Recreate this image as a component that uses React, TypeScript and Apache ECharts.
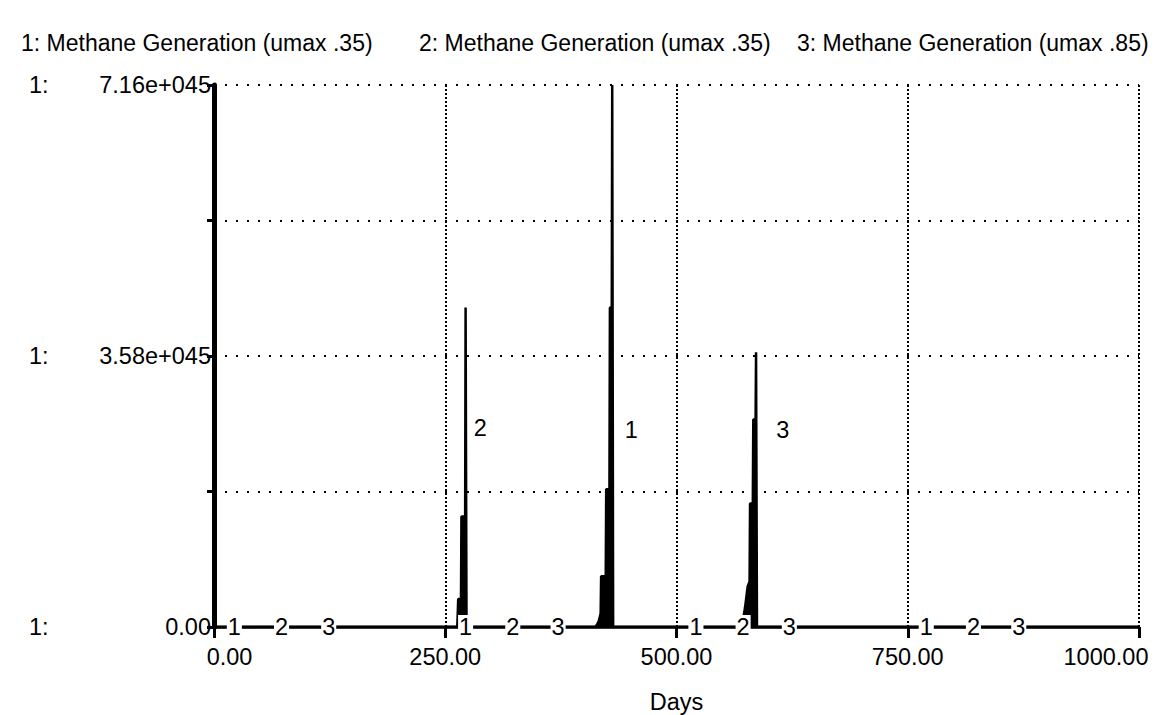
import React, { useEffect, useRef } from "react";
import * as echarts from "echarts";

// ---- data (values in units of 1e45) ----
const legendNames = [
  "1: Methane Generation (umax .35)",
  "2: Methane Generation (umax .35)",
  "3: Methane Generation (umax .85)",
];
const series1 = [
  [0, 0], [412, 0], [414, 0.03], [416, 0.08], [418, 0.18], [418.5, 0.67], [423.5, 0.67],
  [424, 1.82], [427.5, 1.82], [428, 4.22], [430, 4.22], [430.5, 7.16], [431.5, 0], [1000, 0],
];
const series2 = [
  [0, 0], [263, 0], [264, 0.37], [267, 0.37], [267.5, 1.46], [271.5, 1.46], [272, 4.22],
  [273, 0], [1000, 0],
];
const series3 = [
  [0, 0], [571, 0], [572, 0.1], [574, 0.25], [577, 0.54], [579, 0.6], [579.5, 1.63],
  [582.5, 1.63], [583, 2.74], [585.5, 2.74], [586, 3.63], [587, 0], [1000, 0],
];
const baseLabelDays1 = [22, 272, 521, 770];
const baseLabelDays2 = [73, 323, 572, 821];
const baseLabelDays3 = [124, 372, 622, 870];
const spikeLabel1 = [451, 2.6];
const spikeLabel2 = [288, 2.63];
const spikeLabel3 = [615, 2.6];
const xMin = 0;
const xMax = 1000;
const xInterval = 250;
const yMin = 0;
const yMax = 7.16;
const yInterval = 1.79;
const yTickLabels = ["0.00", "", "3.58e+045", "", "7.16e+045"];
const xName = "Days";

const FONT = '"Liberation Sans", Arial, Helvetica, sans-serif';
const FS = 23.5;
const LEGEND_FS = 23;
const legendLefts = [8, 406, 784];

export default function App() {
  const ref = useRef<HTMLDivElement>(null);
  useEffect(() => {
    if (!ref.current) return;
    const chart = echarts.init(ref.current, undefined, { renderer: "svg" });
    const seriesData = [series1, series2, series3];
    const baseDays = [baseLabelDays1, baseLabelDays2, baseLabelDays3];
    const spikes = [spikeLabel1, spikeLabel2, spikeLabel3];

    const lineSeries = seriesData.map((d, i) => ({
      name: legendNames[i],
      type: "line",
      data: d,
      showSymbol: false,
      symbol: "none",
      lineStyle: { color: "#000", width: 2.5 },
      itemStyle: { color: "#000" },
      areaStyle: { color: "#000", opacity: 1 },
      z: 3,
    }));
    const labelSeries = baseDays.map((days, i) => ({
      name: "label" + (i + 1),
      type: "scatter",
      data: [...days.map((d) => [d, 0]), spikes[i]],
      symbolSize: 1,
      itemStyle: { color: "rgba(255,255,255,0)" },
      label: {
        show: true,
        formatter: String(i + 1),
        position: "inside",
        fontSize: FS,
        fontFamily: FONT,
        color: "#000",
        opacity: 1,
        textBorderWidth: 0,
        backgroundColor: "#fff",
        padding: [0, 1],
      },
      z: 5,
    }));

    const legends = legendNames.map((n, i) => ({
      data: [n],
      left: legendLefts[i],
      top: 23,
      padding: 0,
      icon: "none",
      itemWidth: 0,
      selectedMode: false,
      textStyle: { fontSize: LEGEND_FS, fontFamily: FONT, color: "#000" },
    }));

    chart.setOption({
      animation: false,
      backgroundColor: "#fff",
      textStyle: { fontFamily: FONT },
      legend: legends,
      grid: { left: 206, right: 25, top: 77, bottom: 96, containLabel: false },
      xAxis: {
        type: "value",
        min: xMin,
        max: xMax,
        interval: xInterval,
        offset: 5,
        name: xName,
        nameLocation: "middle",
        nameGap: 58,
        nameTextStyle: { fontSize: FS, fontFamily: FONT, color: "#000" },
        axisLine: { show: true, lineStyle: { color: "#000", width: 2.5 } },
        axisTick: { show: true, length: 11, lineStyle: { color: "#000", width: 3 } },
        axisLabel: {
          fontSize: FS,
          fontFamily: FONT,
          color: "#000",
          margin: 13,
          alignMinLabel: "center",
          alignMaxLabel: "center",
          formatter: (v: number) => {
            const t = v.toFixed(2);
            if (v === xMin) return `{m|${t}}`;
            if (v === xMax) return `{M|${t}}`;
            return t;
          },
          rich: {
            m: { padding: [0, 0, 0, 31], fontSize: FS, fontFamily: FONT, color: "#000" },
            M: { padding: [0, 66, 0, 0], fontSize: FS, fontFamily: FONT, color: "#000" },
          },
        },
        splitLine: { show: true, lineStyle: { color: "#000", width: 2, type: [2, 2] } },
      },
      yAxis: {
        type: "value",
        min: yMin,
        max: yMax,
        interval: yInterval,
        axisLine: { show: true, lineStyle: { color: "#000", width: 5 } },
        axisTick: { show: true, length: 7, lineStyle: { color: "#000", width: 3 } },
        axisLabel: {
          margin: 3,
          fontSize: FS,
          fontFamily: FONT,
          color: "#000",
          formatter: (_v: number, idx: number) => {
            const t = yTickLabels[idx];
            return t ? `{s|1:}{v|${t}}` : "";
          },
          rich: {
            s: { width: 70, align: "left", fontSize: FS, fontFamily: FONT, color: "#000" },
            v: { width: 112, align: "right", fontSize: FS, fontFamily: FONT, color: "#000" },
          },
        },
        splitLine: { show: true, lineStyle: { color: "#000", width: 2, type: [2, 9] } },
      },
      tooltip: { show: false },
      series: [...lineSeries, ...labelSeries],
    });
    return () => chart.dispose();
  }, []);
  return (
    <div
      ref={ref}
      style={{ position: "fixed", left: 0, top: 0, width: 1156, height: 715 }}
    />
  );
}
